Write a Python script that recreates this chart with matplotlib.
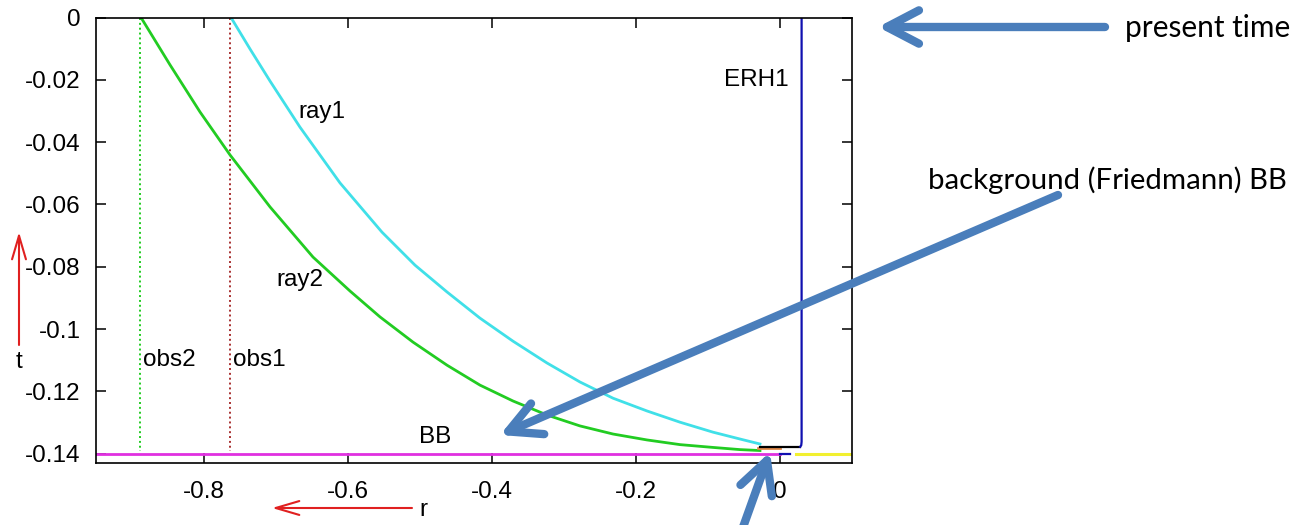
import numpy as np
import matplotlib
matplotlib.use("Agg")
import matplotlib.pyplot as plt

plt.rcParams['font.family'] = ['Liberation Sans', 'DejaVu Sans']
plt.rcParams['axes.unicode_minus'] = False

# data
ray1_r = [-0.7625, -0.7361, -0.7083, -0.6667, -0.6111, -0.5528, -0.5069, -0.4625, -0.4167,
          -0.3708, -0.3236, -0.2778, -0.2319, -0.1847, -0.1389, -0.0931, -0.0556, -0.0278]
ray1_t = [0.0, -0.0101, -0.0204, -0.0352, -0.0531, -0.0689, -0.0795, -0.0881, -0.0965,
          -0.1039, -0.1109, -0.1170, -0.1222, -0.1263, -0.1299, -0.1331, -0.1353, -0.1369]

ray2_r = [-0.8875, -0.8472, -0.8056, -0.7639, -0.7083, -0.6486, -0.5972, -0.5556, -0.5097, -0.4625,
          -0.4167, -0.3708, -0.3236, -0.2778, -0.2319, -0.1847, -0.1389, -0.0931, -0.0556, -0.0278]
ray2_t = [0.0, -0.0152, -0.0303, -0.0441, -0.0608, -0.0769, -0.0878, -0.0961, -0.1042, -0.1116,
          -0.1180, -0.1231, -0.1276, -0.1311, -0.1337, -0.1356, -0.1371, -0.1380, -0.1387, -0.1390]

obs1_r = -0.764
obs2_r = -0.889
obs_t = [0.0, -0.139]

erh1_r = [0.030, 0.030, 0.0295, 0.028]
erh1_t = [0.0, -0.1362, -0.1373, -0.1378]

black_r = [-0.028, 0.028]
black_t = [-0.1378, -0.1378]
orange_r = [-0.030, 0.0]
orange_t = [-0.1383, -0.1383]
bb_r = [-0.95, 0.0]
bb_t = [-0.14, -0.14]
blue_r = [0.0, 0.014]
blue_t = [-0.14, -0.14]
yellow_r = [0.022, 0.1]
yellow_t = [-0.14, -0.14]

xticks = [-0.8, -0.6, -0.4, -0.2, 0.0]
xlabels = ['-0.8', '-0.6', '-0.4', '-0.2', '0']
yticks = [0.0, -0.02, -0.04, -0.06, -0.08, -0.1, -0.12, -0.14]
ylabels = ['0', '-0.02', '-0.04', '-0.06', '-0.08', '-0.1', '-0.12', '-0.14']

W, H = 1301, 525


def fp(x, y):
    # pixel position (top-left origin) -> figure fraction
    return (x / W, 1 - y / H)


fig = plt.figure(figsize=(W / 100, H / 100), dpi=100)
ax = fig.add_axes([96 / W, 1 - 463 / H, (852 - 96) / W, (463 - 17.5) / H])

ax.plot([obs2_r, obs2_r], obs_t, color='#22cc22', lw=1.4, ls=(0, (1, 1.5)))
ax.plot([obs1_r, obs1_r], obs_t, color='#a83030', lw=1.4, ls=(0, (1, 1.5)))
ax.plot(ray2_r, ray2_t, color='#22cc22', lw=2.0)
ax.plot(ray1_r, ray1_t, color='#40e0e8', lw=2.0)
ax.plot(orange_r, orange_t, color='#e08848', lw=2.0)
ax.plot(black_r, black_t, color='black', lw=1.6)
ax.plot(erh1_r, erh1_t, color='#1010b0', lw=1.6)
ax.plot(bb_r, bb_t, color='#e030e0', lw=2.0)
ax.plot(blue_r, blue_t, color='#1010b0', lw=1.6)
ax.plot(yellow_r, yellow_t, color='#f2f030', lw=2.2)

ax.set_xlim(-0.95, 0.1)
ax.set_ylim(-0.1430, 0.0)
ax.set_xticks(xticks)
ax.set_xticklabels(xlabels)
ax.set_yticks(yticks)
ax.set_yticklabels(ylabels)
ax.tick_params(direction='in', length=7, width=1.1, labelsize=17.5,
               top=True, right=True, colors='black')
ax.tick_params(axis='x', pad=13)
ax.tick_params(axis='y', pad=11)
for s in ax.spines.values():
    s.set_linewidth(1.2)

# labels inside the plot
fs = 17.5
fig.text(*fp(298, 112), 'ray1', fontsize=fs, va='center', ha='left')
fig.text(*fp(276, 280), 'ray2', fontsize=fs, va='center', ha='left')
fig.text(*fp(143, 360), 'obs2', fontsize=fs, va='center', ha='left')
fig.text(*fp(233, 360), 'obs1', fontsize=fs, va='center', ha='left')
fig.text(*fp(724, 80), 'ERH1', fontsize=fs, va='center', ha='left')
fig.text(*fp(419, 437), 'BB', fontsize=fs, va='center', ha='left')

# red axis arrows
red = '#e02020'
fig.text(*fp(19, 362), 't', fontsize=fs, va='center', ha='center')
fig.text(*fp(419, 510), 'r', fontsize=fs, va='center', ha='left')
ax.annotate('', xy=fp(19, 232), xytext=fp(19, 345), xycoords='figure fraction',
            arrowprops=dict(arrowstyle='->, head_length=0.85, head_width=0.25',
                            color=red, lw=1.5, shrinkA=0, shrinkB=0, mutation_scale=20))
ax.annotate('', xy=fp(272, 508), xytext=fp(412, 508), xycoords='figure fraction',
            arrowprops=dict(arrowstyle='->, head_length=0.85, head_width=0.25',
                            color=red, lw=1.5, shrinkA=0, shrinkB=0, mutation_scale=20))

# blue call-out arrows
blue = '#4a7ebb'
style = '->, head_length=1.15, head_width=0.6'
for tip, tail in [((878, 27), (1105, 27)),
                  ((500, 435), (1058, 195)),
                  ((770, 452), (742, 530))]:
    ax.annotate('', xy=fp(*tip), xytext=fp(*tail), xycoords='figure fraction',
                annotation_clip=False,
                arrowprops=dict(arrowstyle=style, color=blue, lw=6, shrinkA=0, shrinkB=0,
                                mutation_scale=20, capstyle='round', joinstyle='round'))

fig.text(*fp(1125, 28), 'present time', fontsize=21.5, family='Lato', va='center', ha='left')
fig.text(*fp(928, 180), 'background (Friedmann) BB', fontsize=21.2, family='Lato',
         va='center', ha='left')

fig.savefig('out.png', dpi=100)
